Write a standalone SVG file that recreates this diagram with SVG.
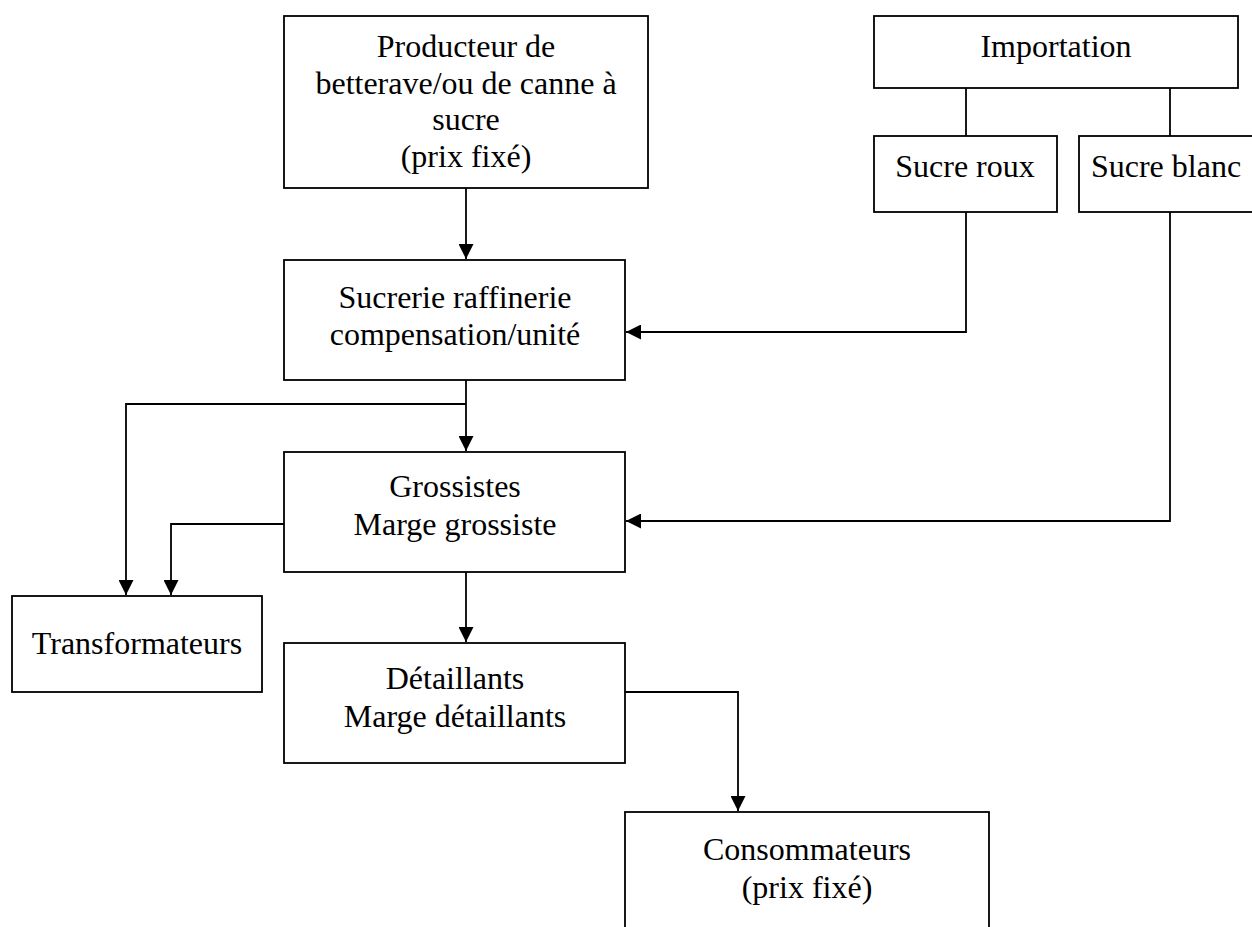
<svg xmlns="http://www.w3.org/2000/svg" width="1252" height="927" viewBox="0 0 1252 927">
<style>
.box{fill:#fff;stroke:#000;stroke-width:1.8}
.t{font-family:"Liberation Serif","Times New Roman",serif;font-size:32px;fill:#000;text-anchor:middle}
.c{fill:none;stroke:#000;stroke-width:1.8}
</style>
<defs>
<marker id="ah" viewBox="0 0 10 10" refX="10" refY="5" markerWidth="15" markerHeight="15" markerUnits="userSpaceOnUse" orient="auto">
<path d="M0,0 L10,5 L0,10 Z" fill="#000"/>
</marker>
</defs>
<rect width="1252" height="927" fill="#fff"/>
<g id="connectors">
<path class="c" d="M466,188 V259" marker-end="url(#ah)"/>
<path class="c" d="M966,88 V136"/>
<path class="c" d="M1170,88 V136"/>
<path class="c" d="M966,212 V332 H626" marker-end="url(#ah)"/>
<path class="c" d="M1170,212 V521 H626" marker-end="url(#ah)"/>
<path class="c" d="M466,380 V451" marker-end="url(#ah)"/>
<path class="c" d="M466,404 H126 V595" marker-end="url(#ah)"/>
<path class="c" d="M284,524 H171 V595" marker-end="url(#ah)"/>
<path class="c" d="M466,572 V642" marker-end="url(#ah)"/>
<path class="c" d="M625,692 H738 V811" marker-end="url(#ah)"/>
</g>
<g id="producteur">
<rect class="box" x="284" y="16" width="364" height="172"/>
<text class="t" x="466" y="57">Producteur de</text>
<text class="t" x="466" y="94">betterave/ou de canne à</text>
<text class="t" x="466" y="130">sucre</text>
<text class="t" x="466" y="167">(prix fixé)</text>
</g>
<g id="importation">
<rect class="box" x="874" y="16" width="364" height="72"/>
<text class="t" x="1056" y="57">Importation</text>
</g>
<g id="sucre-roux">
<rect class="box" x="874" y="136" width="183" height="76"/>
<text class="t" x="965" y="177">Sucre roux</text>
</g>
<g id="sucre-blanc">
<rect class="box" x="1079" y="136" width="180" height="76"/>
<text class="t" x="1166" y="177">Sucre blanc</text>
</g>
<g id="sucrerie">
<rect class="box" x="284" y="260" width="341" height="120"/>
<text class="t" x="455" y="308">Sucrerie raffinerie</text>
<text class="t" x="455" y="345">compensation/unité</text>
</g>
<g id="grossistes">
<rect class="box" x="284" y="452" width="341" height="120"/>
<text class="t" x="455" y="497">Grossistes</text>
<text class="t" x="455" y="535">Marge grossiste</text>
</g>
<g id="transformateurs">
<rect class="box" x="12" y="596" width="250" height="96"/>
<text class="t" x="137" y="654">Transformateurs</text>
</g>
<g id="detaillants">
<rect class="box" x="284" y="643" width="341" height="120"/>
<text class="t" x="455" y="689">Détaillants</text>
<text class="t" x="455" y="727">Marge détaillants</text>
</g>
<g id="consommateurs">
<rect class="box" x="625" y="812" width="364" height="130"/>
<text class="t" x="807" y="860">Consommateurs</text>
<text class="t" x="807" y="898">(prix fixé)</text>
</g>
</svg>
